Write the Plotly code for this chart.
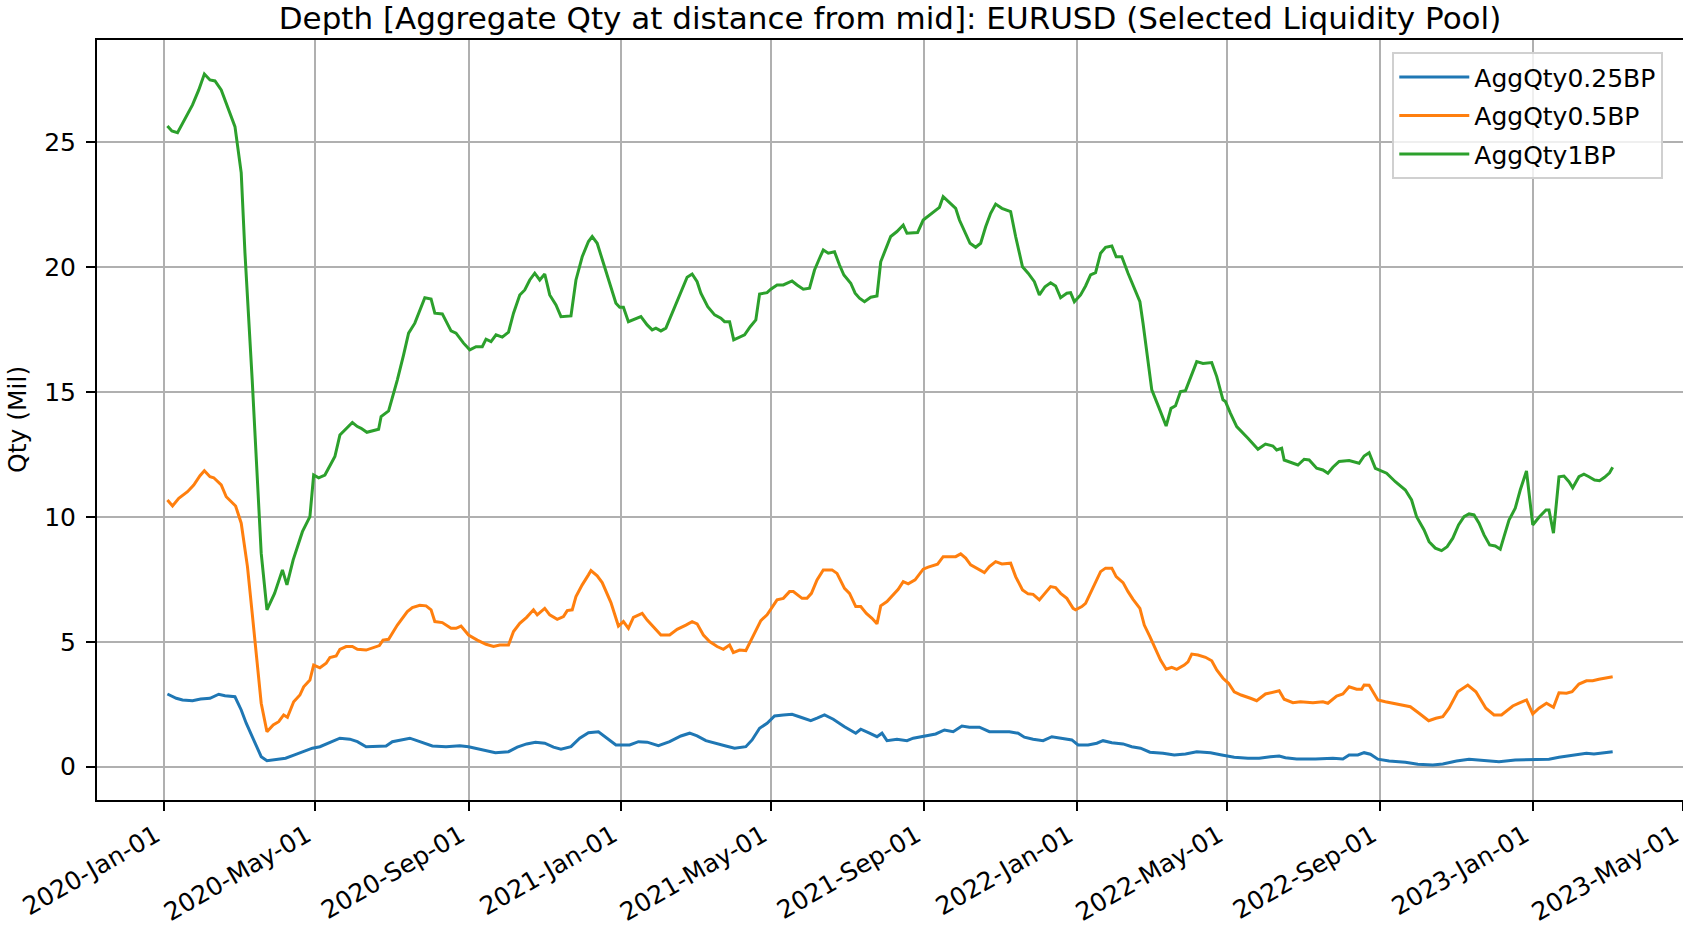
import pandas as pd
import plotly.graph_objects as go

BASE_DATE = "2020-01-01"

# Day offsets from BASE_DATE and values (Mil)
days_1bp = [2.9, 6.5, 11, 15, 23, 28, 32.5, 37, 41, 46, 51, 57, 62, 65, 70.8, 74, 78, 82.6, 88.7, 95, 98.6, 103.6, 111, 117, 120, 124, 129, 137, 141, 151, 155, 158, 162.6, 172, 174, 180, 187, 192, 196, 201, 205, 209, 214, 217, 223, 230, 234, 240, 245, 250, 255, 258, 262, 266, 271, 276, 280, 285, 289, 293, 297, 301, 305, 309, 314, 318, 326, 330, 335, 340, 343, 347, 352, 358, 362, 365, 368, 372, 377, 382, 387, 391, 394, 398, 402, 407, 411, 416, 419, 423, 427, 430, 435.5, 441, 446, 449, 453, 456.3, 461, 465, 469.5, 474, 477, 483, 486, 491, 496, 503, 507, 512, 517, 521, 525, 528, 532, 537, 541, 544.5, 550, 553.5, 557, 561, 566, 571, 574, 579, 582, 587, 592, 595, 600, 603.5, 608, 612, 618, 621, 624, 628.5, 634, 637, 642, 645.5, 650, 654, 658, 662, 666, 671, 678, 682, 687.5, 692, 697, 701, 705.5, 710, 714, 718, 723, 726, 729, 734, 738, 742, 746, 750, 754, 759, 762.5, 767, 772, 777, 781.5, 784, 786, 791, 796.4, 802.5, 806.4, 810, 814, 818, 827, 832, 839, 843, 848, 850, 854, 859, 868, 876, 882, 888, 891, 895, 897, 904, 908, 913, 917, 923, 928, 932, 936, 941, 949, 957, 961, 965, 970, 979, 986, 994, 999, 1003, 1009, 1013, 1018, 1023, 1027.5, 1032, 1036.6, 1041, 1045, 1049, 1053, 1057, 1061.5, 1066, 1070, 1073, 1077, 1082, 1086, 1091, 1096, 1101, 1106.6, 1109, 1112.6, 1117, 1121, 1125, 1128, 1133, 1137, 1141, 1145.5, 1149.5, 1153.5, 1157.5, 1160]
qty_1bp = [25.66, 25.46, 25.39, 25.74, 26.5, 27.1, 27.74, 27.5, 27.46, 27.1, 26.43, 25.63, 23.78, 20.57, 15.48, 12.41, 8.55, 6.28, 6.94, 7.88, 7.28, 8.28, 9.41, 10.01, 11.68, 11.57, 11.68, 12.42, 13.28, 13.78, 13.62, 13.55, 13.39, 13.51, 14.02, 14.25, 15.49, 16.49, 17.36, 17.76, 18.29, 18.78, 18.73, 18.16, 18.13, 17.45, 17.36, 16.96, 16.69, 16.82, 16.82, 17.12, 17.02, 17.29, 17.2, 17.4, 18.16, 18.89, 19.09, 19.49, 19.76, 19.49, 19.73, 18.89, 18.49, 18.02, 18.05, 19.49, 20.42, 21.03, 21.23, 20.96, 20.16, 19.22, 18.56, 18.4, 18.4, 17.82, 17.92, 18.02, 17.69, 17.49, 17.56, 17.45, 17.56, 18.16, 18.62, 19.22, 19.6, 19.73, 19.42, 18.96, 18.42, 18.09, 17.96, 17.82, 17.82, 17.09, 17.2, 17.29, 17.62, 17.89, 18.93, 18.98, 19.12, 19.29, 19.29, 19.45, 19.29, 19.12, 19.16, 19.89, 20.36, 20.69, 20.56, 20.62, 20.09, 19.69, 19.36, 18.96, 18.76, 18.62, 18.8, 18.85, 20.22, 20.82, 21.23, 21.43, 21.69, 21.36, 21.36, 21.39, 21.89, 22.05, 22.27, 22.4, 22.83, 22.63, 22.36, 21.89, 21.36, 20.96, 20.8, 20.96, 21.62, 22.16, 22.53, 22.36, 22.23, 21.23, 20.02, 19.76, 19.42, 18.89, 19.22, 19.38, 19.25, 18.78, 18.96, 18.98, 18.62, 18.89, 19.25, 19.69, 19.78, 20.56, 20.8, 20.85, 20.42, 20.42, 19.76, 19.16, 18.62, 17.76, 17.02, 15.09, 14.42, 13.64, 14.35, 14.45, 15.02, 15.06, 16.22, 16.15, 16.18, 15.62, 14.69, 14.62, 14.15, 13.62, 13.15, 12.71, 12.92, 12.84, 12.68, 12.75, 12.28, 12.15, 12.08, 12.31, 12.28, 11.95, 11.88, 11.75, 11.99, 12.22, 12.26, 12.15, 12.44, 12.57, 11.95, 11.75, 11.41, 11.08, 10.68, 10.01, 9.48, 9.01, 8.75, 8.65, 8.81, 9.15, 9.68, 10.01, 10.12, 10.08, 9.75, 9.28, 8.88, 8.84, 8.71, 9.21, 9.88, 10.35, 11.08, 11.84, 9.68, 9.99, 10.28, 10.28, 9.35, 11.61, 11.64, 11.41, 11.17, 11.61, 11.71, 11.61, 11.48, 11.45, 11.59, 11.77, 11.99]

days_05bp = [2.9, 7, 12, 19, 24, 29, 32.5, 37, 40, 46, 50, 55, 57.5, 62, 67, 70.8, 75, 78, 82.6, 87.6, 92, 96, 99, 104, 109, 112, 117, 120, 125, 130, 133, 138, 141, 146, 151, 155, 162, 169, 172.6, 175.5, 180, 187, 195, 199, 205, 210, 214, 217, 223, 230, 234, 238, 244, 251, 258, 264, 269, 276, 280, 285, 290.5, 296, 299, 305, 309, 315, 320, 323, 327, 330, 335, 340, 342, 347, 351, 358, 364, 368, 372, 376, 383, 387, 392, 398, 405, 411, 418, 423, 427, 432, 437, 443, 448, 453, 456, 461, 466, 471, 474, 478, 483, 488, 491, 496, 501, 504, 511, 515, 518.5, 523, 528, 535, 539, 545, 549, 554, 558, 562.5, 567, 571, 574, 579, 584, 588, 592, 596, 601.5, 608, 612, 619.5, 624, 628.5, 634, 638, 642, 646, 652, 657, 661, 666, 671, 678, 682, 687.5, 692, 696, 701, 705.5, 710, 714, 718, 723, 728, 730, 735, 738, 743, 746, 750, 754, 759, 762.5, 768, 772, 776, 781.5, 785, 789.5, 794, 798, 802.5, 807, 811, 817, 820, 823, 828, 834, 839, 843, 848, 852.5, 857, 862.5, 870, 875, 882, 888, 893, 897, 904, 910, 920, 928, 932, 939, 944, 949, 955, 959, 961, 965, 972, 978, 982, 989, 998, 1005, 1012.7, 1018.5, 1024, 1029, 1036, 1044, 1050.5, 1058.5, 1065, 1071, 1080, 1085, 1091, 1096, 1101, 1107, 1112.6, 1117, 1123, 1127.5, 1133, 1139, 1144, 1149, 1155, 1160]
qty_05bp = [10.68, 10.44, 10.75, 11.01, 11.28, 11.65, 11.85, 11.61, 11.57, 11.28, 10.81, 10.57, 10.44, 9.75, 8.01, 6.14, 4.14, 2.54, 1.40, 1.67, 1.80, 2.07, 1.98, 2.60, 2.87, 3.20, 3.47, 4.07, 3.96, 4.14, 4.37, 4.43, 4.70, 4.81, 4.81, 4.70, 4.67, 4.81, 4.85, 5.07, 5.10, 5.67, 6.21, 6.37, 6.46, 6.44, 6.28, 5.81, 5.77, 5.54, 5.54, 5.63, 5.27, 5.07, 4.90, 4.81, 4.87, 4.87, 5.41, 5.74, 5.98, 6.28, 6.08, 6.34, 6.08, 5.90, 6.01, 6.25, 6.28, 6.81, 7.28, 7.68, 7.85, 7.64, 7.37, 6.57, 5.63, 5.81, 5.54, 5.98, 6.14, 5.87, 5.61, 5.27, 5.27, 5.50, 5.67, 5.81, 5.72, 5.27, 5.01, 4.81, 4.70, 4.87, 4.57, 4.67, 4.65, 5.14, 5.47, 5.85, 6.08, 6.48, 6.68, 6.74, 7.01, 7.01, 6.74, 6.74, 6.94, 7.48, 7.88, 7.88, 7.74, 7.14, 6.94, 6.41, 6.41, 6.14, 5.94, 5.72, 6.44, 6.61, 6.88, 7.10, 7.41, 7.32, 7.48, 7.91, 7.99, 8.11, 8.41, 8.41, 8.41, 8.52, 8.35, 8.08, 7.92, 7.77, 8.01, 8.21, 8.12, 8.15, 7.61, 7.08, 6.92, 6.90, 6.68, 6.94, 7.21, 7.17, 6.94, 6.74, 6.34, 6.28, 6.41, 6.54, 7.08, 7.41, 7.81, 7.95, 7.95, 7.61, 7.37, 7.01, 6.70, 6.34, 5.67, 5.21, 4.74, 4.27, 3.90, 3.98, 3.90, 4.07, 4.20, 4.51, 4.47, 4.38, 4.24, 3.87, 3.54, 3.34, 3.00, 2.87, 2.74, 2.64, 2.91, 2.98, 3.04, 2.70, 2.56, 2.60, 2.56, 2.60, 2.54, 2.83, 2.91, 3.20, 3.10, 3.10, 3.27, 3.26, 2.67, 2.60, 2.56, 2.47, 2.40, 2.14, 1.84, 1.94, 2.00, 2.34, 3.00, 3.27, 3.00, 2.34, 2.07, 2.07, 2.43, 2.54, 2.67, 2.11, 2.34, 2.54, 2.38, 2.96, 2.94, 3.00, 3.31, 3.44, 3.44, 3.50, 3.56, 3.60]

days_025bp = [2.9, 10, 15, 23, 29.5, 37, 44, 49, 57, 62, 66, 70, 73, 78, 82.6, 90, 97.5, 104.7, 112, 119, 125, 133, 141, 149, 155, 162, 172.6, 178, 183, 190.5, 197, 205, 215, 226, 237, 244, 255, 265.5, 276, 283, 290.5, 297.6, 305, 312, 318, 326, 333, 340, 348, 355, 362, 373, 380, 387, 396, 405, 414, 421, 427, 434, 443, 450, 457, 466, 471, 477, 483, 489, 496, 503, 510, 518, 523, 529, 536, 545, 554, 558, 565, 571, 575, 579, 587, 595, 600, 609, 618, 625, 632, 639, 645, 653, 661, 668, 677, 684, 689, 696, 704, 711, 720, 727, 732, 740, 747, 752, 759, 768, 775, 782, 789.5, 800, 809, 818, 827, 838, 847, 857, 868, 877, 886, 893, 898, 907, 922, 936, 944, 949, 956, 961, 966, 972, 981, 994, 1004, 1016, 1024, 1035, 1045, 1058.5, 1069, 1082, 1096, 1109, 1117, 1128, 1139, 1145, 1152, 1160]
qty_025bp = [2.91, 2.74, 2.67, 2.64, 2.71, 2.74, 2.90, 2.84, 2.80, 2.27, 1.74, 1.27, 0.94, 0.40, 0.24, 0.30, 0.34, 0.47, 0.60, 0.74, 0.80, 0.96, 1.14, 1.10, 1.00, 0.80, 0.80, 0.83, 1.00, 1.07, 1.14, 1.00, 0.83, 0.80, 0.84, 0.80, 0.67, 0.56, 0.60, 0.78, 0.91, 0.98, 0.94, 0.78, 0.70, 0.80, 1.14, 1.36, 1.40, 1.14, 0.87, 0.87, 1.00, 0.98, 0.84, 1.00, 1.23, 1.34, 1.23, 1.04, 0.91, 0.83, 0.74, 0.80, 1.07, 1.54, 1.74, 2.03, 2.07, 2.10, 1.98, 1.84, 1.94, 2.07, 1.90, 1.60, 1.34, 1.50, 1.34, 1.20, 1.34, 1.04, 1.10, 1.04, 1.14, 1.23, 1.31, 1.47, 1.40, 1.63, 1.58, 1.58, 1.40, 1.40, 1.40, 1.34, 1.18, 1.10, 1.04, 1.20, 1.14, 1.07, 0.87, 0.87, 0.94, 1.04, 0.96, 0.91, 0.80, 0.74, 0.58, 0.54, 0.47, 0.51, 0.60, 0.56, 0.47, 0.38, 0.34, 0.34, 0.40, 0.43, 0.36, 0.31, 0.31, 0.34, 0.31, 0.47, 0.47, 0.56, 0.50, 0.30, 0.23, 0.18, 0.10, 0.07, 0.11, 0.23, 0.30, 0.24, 0.20, 0.27, 0.27, 0.30, 0.38, 0.47, 0.54, 0.51, 0.54, 0.60]

series_names = ["AggQty0.25BP", "AggQty0.5BP", "AggQty1BP"]
series_colors = ["#1f77b4", "#ff7f0e", "#2ca02c"]

TITLE = "Depth [Aggregate Qty at distance from mid]: EURUSD (Selected Liquidity Pool)"
Y_LABEL = "Qty (Mil)"


def to_dates(days):
    return pd.Timestamp(BASE_DATE) + pd.to_timedelta(days, unit="D")


FONT = "DejaVu Sans"
FIG_W, FIG_H = 1683, 926
M_L, M_T, M_B = 97, 40, 126
PLOT_W = FIG_W - M_L

fig = go.Figure()
for i, (d, v) in enumerate([(days_025bp, qty_025bp), (days_05bp, qty_05bp), (days_1bp, qty_1bp)]):
    fig.add_trace(go.Scatter(
        x=to_dates(d), y=v, mode="lines", name=series_names[i],
        line=dict(color=series_colors[i], width=3),
        legendgroup=series_names[i],
    ))

x_start = pd.Timestamp(BASE_DATE) + pd.Timedelta(days=-53.46)
x_end = pd.Timestamp(BASE_DATE) + pd.Timedelta(days=1216.3)

fig.update_layout(
    width=FIG_W, height=FIG_H,
    margin=dict(l=M_L, r=0, t=M_T, b=M_B, autoexpand=False),
    paper_bgcolor="white", plot_bgcolor="white",
    font=dict(family=FONT, size=25, color="black"),
    title=dict(text=TITLE, x=0.5, xref="paper", xanchor="center",
               y=1 - 18 / FIG_H, yref="container", yanchor="middle",
               font=dict(family=FONT, size=31, color="black")),
    showlegend=True,
    legend=dict(x=0.8167, y=0.9838, xanchor="left", yanchor="top",
                bgcolor="rgba(255,255,255,0.8)", bordercolor="#d0d0d0", borderwidth=2,
                font=dict(family=FONT, size=25, color="black"),
                tracegroupgap=3, itemwidth=70),
    xaxis=dict(type="date", range=[x_start, x_end],
               tick0=BASE_DATE, dtick="M4", tickformat="%Y-%b-%d", tickangle=-30,
               ticks="outside", ticklen=9, tickwidth=2, tickcolor="black",
               ticklabeloverflow="allow", ticklabelshift=-8,
               showline=True, linecolor="black", linewidth=2, mirror=True,
               showgrid=True, gridcolor="#b0b0b0", gridwidth=2, zeroline=False,
               automargin=False,
               tickfont=dict(family=FONT, size=25, color="black")),
    yaxis=dict(range=[-1.335, 29.1], tick0=0, dtick=5,
               ticks="outside", ticklen=9, tickwidth=2, tickcolor="black",
               ticklabelstandoff=5,
               showline=True, linecolor="black", linewidth=2, mirror=False,
               showgrid=True, gridcolor="#b0b0b0", gridwidth=2, zeroline=False,
               automargin=False,
               tickfont=dict(family=FONT, size=25, color="black")),
    annotations=[dict(text=Y_LABEL, textangle=-90, showarrow=False,
                      xref="paper", yref="paper", x=(17 - M_L) / PLOT_W, y=0.5,
                      xanchor="center", yanchor="middle",
                      font=dict(family=FONT, size=25, color="black"))],
)

# remove the browser's default 8px body margin so the figure starts at the page corner
fig.write_html("out.html", config={"displayModeBar": False},
               post_script="document.body.style.margin='0px';")
